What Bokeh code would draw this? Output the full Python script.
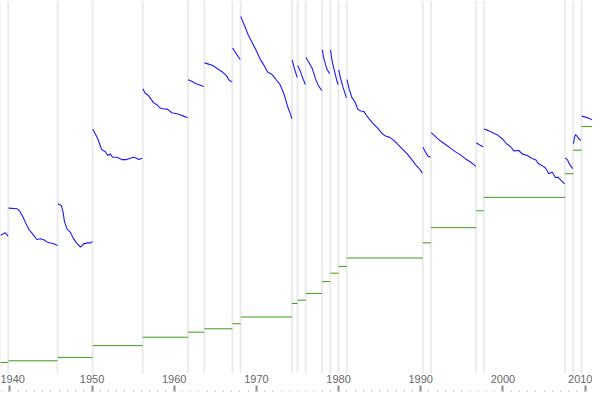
from bokeh.plotting import figure
from bokeh.models import Range1d, SingleIntervalTicker, LinearAxis
from bokeh.embed import file_html
from bokeh.resources import INLINE

# Dates (decimal years) at which the federal minimum wage changed
change_years = [1938.81, 1939.81, 1945.81, 1950.07, 1956.17, 1961.67, 1963.67,
                1967.08, 1968.08, 1974.33, 1975.0, 1976.0, 1978.0, 1979.0,
                1980.0, 1981.0, 1990.25, 1991.25, 1996.75, 1997.67, 2007.56,
                2008.56, 2009.56]
# Nominal minimum wage (USD) from each change date
nominal_wage = [0.25, 0.30, 0.40, 0.75, 1.00, 1.15, 1.25, 1.40, 1.60, 2.00,
                2.10, 2.30, 2.65, 2.90, 3.10, 3.35, 3.80, 4.25, 4.75, 5.15,
                5.85, 6.55, 7.25]
end_year = 2012.0

# Real minimum wage (constant dollars), one run per nominal period
real_years = [
    [1938.82, 1939.15, 1939.47, 1939.78],
    [1939.84, 1940.9, 1941.21, 1941.63, 1941.9, 1942.31, 1942.72, 1943.28,
     1943.73, 1944.13, 1944.55, 1945.25, 1945.8],
    [1945.84, 1946.26, 1946.47, 1946.65, 1946.98, 1947.38, 1947.71, 1948.11,
     1948.6, 1948.96, 1949.49, 1949.81, 1950.05],
    [1950.08, 1950.39, 1950.70, 1950.99, 1951.19, 1951.6, 1951.92, 1952.21,
     1952.49, 1953.01, 1953.62, 1954.23, 1954.65, 1955.05, 1955.45, 1955.66,
     1956.12],
    [1956.18, 1956.47, 1956.87, 1957.48, 1957.88, 1958.3, 1958.7, 1959.22,
     1959.71, 1960.32, 1960.73, 1961.13, 1961.62],
    [1961.68, 1962.07, 1962.68, 1963.6],
    [1963.69, 1964.09, 1964.7, 1965.3, 1965.91, 1966.33, 1966.64, 1967.06],
    [1967.1, 1967.58, 1968.03],
    [1968.09, 1968.55, 1969.04, 1969.56, 1969.98, 1970.5, 1970.9, 1971.39,
     1971.88, 1972.31, 1972.87, 1973.27, 1973.5, 1973.82, 1974.15, 1974.3],
    [1974.35, 1974.64, 1974.96],
    [1975.02, 1975.32, 1975.6, 1975.96],
    [1976.02, 1976.38, 1976.77, 1977.22, 1977.58, 1977.96],
    [1978.02, 1978.23, 1978.53, 1978.9],
    [1979.02, 1979.23, 1979.53, 1979.83, 1979.96],
    [1980.02, 1980.24, 1980.54, 1980.96],
    [1981.02, 1981.27, 1981.63, 1982.0, 1982.34, 1982.70, 1983.07, 1983.48,
     1984.09, 1984.70, 1985.31, 1985.71, 1986.23, 1986.72, 1987.21, 1987.74,
     1988.35, 1988.84, 1989.36, 1989.76, 1990.2],
    [1990.27, 1990.58, 1990.86, 1991.2],
    [1991.27, 1991.8, 1992.41, 1993.02, 1993.62, 1994.23, 1994.84, 1995.45,
     1996.06, 1996.7],
    [1996.77, 1997.06, 1997.6],
    [1997.69, 1998.24, 1998.89, 1999.4, 1999.91, 2000.43, 2000.92, 2001.32,
     2001.93, 2002.34, 2002.95, 2003.56, 2004.02, 2004.27, 2004.78, 2005.18,
     2005.58, 2006.0, 2006.4, 2006.7, 2007.04, 2007.5],
    [2007.58, 2007.86, 2008.13, 2008.5],
    [2008.58, 2008.71, 2008.83, 2009.04, 2009.23, 2009.5],
    [2009.6, 2010.05, 2010.53, 2010.86, 2011.14, 2011.39, 2011.67, 2011.9],
]
real_wage = [
    [4.02, 4.06, 4.10, 4.00],
    [4.83, 4.81, 4.74, 4.55, 4.40, 4.20, 4.08, 3.90, 3.92, 3.89, 3.82, 3.78, 3.72],
    [4.96, 4.91, 4.72, 4.43, 4.20, 4.11, 3.94, 3.80, 3.67, 3.77, 3.80, 3.80, 3.84],
    [7.18, 7.04, 6.89, 6.69, 6.56, 6.51, 6.39, 6.44, 6.34, 6.34, 6.27, 6.27,
     6.31, 6.34, 6.31, 6.27, 6.31],
    [8.37, 8.24, 8.17, 7.96, 7.90, 7.80, 7.78, 7.76, 7.66, 7.63, 7.60, 7.56, 7.51],
    [8.64, 8.60, 8.52, 8.44],
    [9.14, 9.11, 9.06, 8.96, 8.86, 8.77, 8.64, 8.57],
    [9.58, 9.40, 9.24],
    [10.52, 10.25, 9.95, 9.71, 9.51, 9.23, 9.08, 8.86, 8.80, 8.67, 8.50, 8.27,
     8.10, 7.83, 7.62, 7.49],
    [9.23, 8.96, 8.71],
    [9.06, 8.91, 8.71, 8.50],
    [9.30, 9.16, 8.99, 8.65, 8.45, 8.32],
    [9.53, 9.25, 8.99, 8.82],
    [9.53, 9.18, 8.87, 8.57, 8.50],
    [8.93, 8.69, 8.42, 8.10],
    [8.64, 8.38, 8.11, 7.98, 7.76, 7.71, 7.70, 7.55, 7.37, 7.22, 7.04, 6.97,
     6.93, 6.84, 6.72, 6.59, 6.44, 6.29, 6.12, 6.02, 5.87],
    [6.64, 6.49, 6.38, 6.34],
    [7.07, 6.95, 6.82, 6.72, 6.61, 6.50, 6.41, 6.29, 6.20, 6.07],
    [6.77, 6.72, 6.65],
    [7.18, 7.13, 7.05, 6.99, 6.89, 6.74, 6.66, 6.53, 6.54, 6.44, 6.39, 6.30,
     6.26, 6.16, 6.09, 6.02, 5.85, 5.90, 5.73, 5.75, 5.66, 5.55],
    [6.32, 6.26, 6.12, 6.00],
    [6.74, 6.93, 7.01, 6.96, 6.89, 6.84],
    [7.56, 7.53, 7.49, 7.45, 7.33, 7.25, 7.21, 7.23],
]

x_start, x_end = 1938.863, 2010.899
y_start, y_end = -0.433, 10.991

p = figure(width=592, height=392, output_backend="svg", toolbar_location=None,
           x_range=Range1d(x_start, x_end), y_range=Range1d(y_start, y_end),
           x_axis_location=None, y_axis_location=None,
           min_border_left=0, min_border_right=0, min_border_top=0,
           min_border_bottom=7)
p.outline_line_color = None
p.grid.grid_line_color = None
p.background_fill_color = "white"
p.border_fill_color = "white"

# light vertical markers at each change
p.segment(x0=change_years, y0=-0.08, x1=change_years, y1=y_end,
          line_color="#ebebeb", line_width=2)

# nominal wage steps
seg_ends = change_years[1:] + [end_year]
p.segment(x0=change_years, y0=nominal_wage, x1=seg_ends, y1=nominal_wage,
          line_color="#3f9c1c", line_width=1)

# real wage
p.multi_line(real_years, real_wage, line_color="#1a1aff", line_width=1.1)

ax = LinearAxis(ticker=SingleIntervalTicker(interval=10, num_minor_ticks=10))
ax.axis_line_color = None
ax.major_tick_in = 0
ax.major_tick_out = 15
ax.major_tick_line_color = "#8a8a8a"
ax.major_tick_line_width = 2
ax.minor_tick_in = -5
ax.minor_tick_out = 15
ax.minor_tick_line_color = "#c4c4c4"
ax.minor_tick_line_width = 1
ax.major_label_standoff = -26
ax.major_label_text_font = "Liberation Sans"
ax.major_label_text_font_size = "11px"
ax.major_label_text_color = "#666666"
p.add_layout(ax, "below")

open("out.html", "w").write(file_html(p, INLINE))
